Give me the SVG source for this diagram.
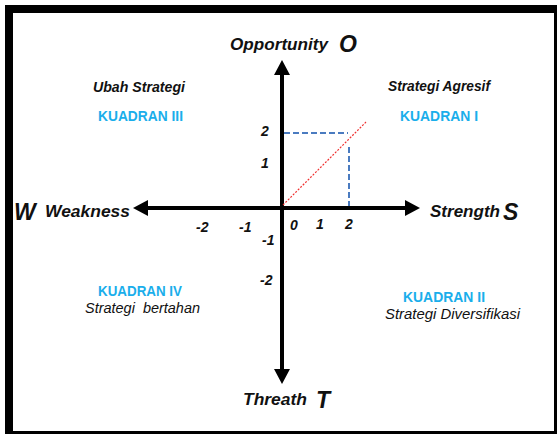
<svg xmlns="http://www.w3.org/2000/svg" width="560" height="437" viewBox="0 0 560 437">
<style>
.ax{font-family:"Liberation Sans",Arial,sans-serif;font-style:italic;font-weight:bold;fill:#111}
.big{font-family:"Liberation Sans",Arial,sans-serif;font-style:italic;font-weight:bold;fill:#111;font-size:23px}
.num{font-family:"Liberation Sans",Arial,sans-serif;font-style:italic;font-weight:bold;fill:#111;font-size:14px}
.kd{font-family:"Liberation Sans",Arial,sans-serif;font-weight:bold;fill:#1AAEEB;font-size:14.5px}
.st{font-family:"Liberation Sans",Arial,sans-serif;font-style:italic;fill:#111;font-size:14px}
.axis{stroke:#000;stroke-width:4;fill:none}
.dash{stroke:#4A7BC0;stroke-width:2;stroke-dasharray:6,3;fill:none}
</style>
<rect x="0" y="0" width="560" height="437" fill="#fff"/>
<rect x="5" y="5" width="552" height="429" fill="#000"/>
<rect x="13" y="13" width="541" height="418" fill="#fff"/>
<g id="connectors">
<line class="axis" x1="146" y1="208" x2="408" y2="208"/>
<polygon points="133,208 148,200 148,216" fill="#000"/>
<polygon points="420,208 405,200 405,216" fill="#000"/>
<line class="axis" x1="282" y1="72" x2="282" y2="372"/>
<polygon points="282,60 274,75 290,75" fill="#000"/>
<polygon points="282,384 274,369 290,369" fill="#000"/>
<line class="dash" x1="284" y1="133" x2="348" y2="133"/>
<line class="dash" x1="349" y1="147" x2="349" y2="206"/>
<line x1="283" y1="205" x2="366" y2="122" stroke="#F03030" stroke-width="1.2" stroke-dasharray="2,1.5"/>
</g>
<g id="opportunity">
<text class="ax" x="230" y="50" font-size="17" textLength="98" lengthAdjust="spacingAndGlyphs">Opportunity</text>
<text class="big" x="339" y="52">O</text>
</g>
<g id="weakness">
<text class="big" x="14" y="220" font-size="25">W</text>
<text class="ax" x="45" y="217" font-size="17" textLength="85" lengthAdjust="spacingAndGlyphs">Weakness</text>
</g>
<g id="strength">
<text class="ax" x="430" y="217" font-size="17" textLength="70" lengthAdjust="spacingAndGlyphs">Strength</text>
<text class="big" x="503" y="220">S</text>
</g>
<g id="threath">
<text class="ax" x="243" y="405" font-size="17" textLength="64" lengthAdjust="spacingAndGlyphs">Threath</text>
<text class="big" x="316" y="408">T</text>
</g>
<g id="ticks">
<text class="num" x="261" y="136">2</text>
<text class="num" x="261" y="168">1</text>
<text class="num" x="262" y="245">-1</text>
<text class="num" x="260" y="285">-2</text>
<text class="num" x="196" y="232">-2</text>
<text class="num" x="239" y="232">-1</text>
<text class="num" x="290" y="230">0</text>
<text class="num" x="316" y="229">1</text>
<text class="num" x="345" y="229">2</text>
</g>
<g id="kuadran3">
<text class="st" x="93" y="92" font-weight="bold" textLength="92" lengthAdjust="spacingAndGlyphs">Ubah Strategi</text>
<text class="kd" x="98" y="121" textLength="85" lengthAdjust="spacingAndGlyphs">KUADRAN III</text>
</g>
<g id="kuadran1">
<text class="st" x="388" y="91" font-weight="bold" textLength="102" lengthAdjust="spacingAndGlyphs">Strategi Agresif</text>
<text class="kd" x="400" y="121" textLength="78" lengthAdjust="spacingAndGlyphs">KUADRAN I</text>
</g>
<g id="kuadran4">
<text class="kd" x="98" y="296" textLength="84" lengthAdjust="spacingAndGlyphs">KUADRAN IV</text>
<text class="st" x="85" y="313" xml:space="preserve" textLength="115" lengthAdjust="spacingAndGlyphs">Strategi  bertahan</text>
</g>
<g id="kuadran2">
<text class="kd" x="403" y="302" textLength="82" lengthAdjust="spacingAndGlyphs">KUADRAN II</text>
<text class="st" x="385" y="319" textLength="135" lengthAdjust="spacingAndGlyphs">Strategi Diversifikasi</text>
</g>
</svg>
